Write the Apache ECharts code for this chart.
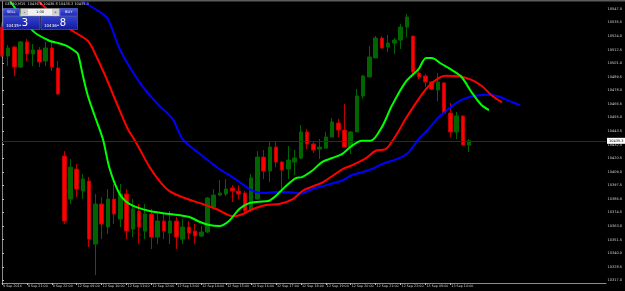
<!DOCTYPE html>
<html>
<head>
<meta charset="utf-8">
<script src="https://cdn.jsdelivr.net/npm/echarts@6/dist/echarts.min.js"></script>
<style>
html, body { margin: 0; padding: 0; background: #000; }
#chart { width: 625px; height: 291px; }
</style>
</head>
<body>
<div id="chart"></div>
<script>
// GER30 M15 - one label every 4 bars
var timeLabels = ['9 Sep 2016', '9 Sep 21:00', '9 Sep 22:00', '12 Sep 09:00', '12 Sep 10:00',
  '12 Sep 11:00', '12 Sep 12:00', '12 Sep 13:00', '12 Sep 14:00', '12 Sep 15:00', '12 Sep 16:00',
  '12 Sep 17:00', '12 Sep 18:00', '12 Sep 19:00', '12 Sep 20:00', '12 Sep 21:00', '12 Sep 22:00',
  '13 Sep 09:00', '13 Sep 10:00'];

// [open, close, low, high]
var candles = [
  [10531.7, 10507.2, 10506.3, 10535.1], [10507.2, 10514.0, 10498.7, 10516.5], [10514.8, 10497.8, 10490.2, 10515.7],
  [10497.8, 10519.1, 10497.0, 10519.9], [10519.1, 10508.9, 10502.9, 10521.6], [10508.9, 10512.3, 10498.7, 10517.4],
  [10512.3, 10502.1, 10497.8, 10514.8], [10502.9, 10514.0, 10498.7, 10519.1], [10514.0, 10497.8, 10494.4, 10519.1],
  [10497.0, 10475.0, 10474.1, 10502.9], [10422.4, 10367.3, 10364.8, 10426.6], [10385.9, 10413.0, 10381.7, 10419.8],
  [10411.4, 10394.4, 10387.6, 10415.6], [10392.7, 10402.9, 10385.9, 10407.2], [10401.2, 10352.0, 10345.2, 10404.6],
  [10347.8, 10381.7, 10321.5, 10390.2], [10381.7, 10364.8, 10352.0, 10387.6], [10362.2, 10385.9, 10356.3, 10394.4],
  [10385.9, 10373.3, 10364.8, 10398.7], [10369.0, 10390.2, 10362.2, 10398.7], [10390.2, 10358.8, 10352.0, 10394.4],
  [10360.5, 10377.5, 10353.7, 10385.9], [10375.8, 10362.2, 10347.8, 10381.7], [10358.8, 10373.3, 10352.0, 10381.7],
  [10373.3, 10353.7, 10343.6, 10377.5], [10353.7, 10367.3, 10347.8, 10373.3], [10367.3, 10358.8, 10352.0, 10373.3],
  [10357.1, 10367.3, 10347.8, 10375.8], [10367.3, 10353.7, 10343.6, 10370.7], [10352.0, 10362.2, 10347.8, 10369.0],
  [10362.2, 10357.1, 10352.0, 10367.3], [10358.8, 10354.6, 10347.8, 10364.8], [10354.6, 10358.0, 10353.7, 10363.1],
  [10358.0, 10386.8, 10357.1, 10387.6], [10379.1, 10389.3, 10378.3, 10394.4], [10389.3, 10391.0, 10388.5, 10402.1],
  [10390.2, 10394.4, 10388.5, 10402.9], [10395.3, 10392.7, 10383.4, 10397.8], [10392.7, 10390.2, 10385.9, 10397.8],
  [10391.0, 10375.8, 10374.1, 10392.7], [10376.6, 10403.8, 10375.0, 10407.2], [10385.9, 10421.5, 10385.9, 10426.6],
  [10421.5, 10409.7, 10402.9, 10427.5], [10409.7, 10430.0, 10400.4, 10434.3], [10430.0, 10417.3, 10413.0, 10434.3],
  [10417.3, 10410.5, 10394.4, 10418.1], [10411.4, 10419.0, 10402.9, 10430.9], [10417.3, 10420.7, 10406.3, 10427.5],
  [10420.7, 10442.8, 10419.8, 10448.7], [10442.8, 10432.6, 10428.3, 10445.3], [10432.6, 10427.5, 10424.9, 10435.1],
  [10428.3, 10430.0, 10419.8, 10436.8], [10429.1, 10438.5, 10429.1, 10442.8], [10438.5, 10451.3, 10438.5, 10454.6],
  [10450.4, 10444.4, 10438.5, 10453.8], [10444.4, 10430.0, 10430.0, 10466.5], [10430.0, 10442.8, 10424.1, 10443.6],
  [10442.8, 10473.3, 10442.8, 10479.2], [10473.3, 10490.2, 10470.7, 10491.0], [10489.4, 10506.3, 10489.4, 10515.7],
  [10505.5, 10522.4, 10505.5, 10524.1], [10522.4, 10514.0, 10513.1, 10524.1], [10514.8, 10518.2, 10510.6, 10525.0],
  [10518.2, 10520.7, 10508.9, 10522.4], [10520.7, 10531.7, 10513.1, 10534.3], [10531.7, 10540.2, 10523.3, 10542.8],
  [10524.1, 10493.6, 10491.9, 10524.1], [10492.7, 10489.4, 10487.7, 10496.1], [10490.2, 10485.2, 10480.9, 10491.9],
  [10485.2, 10479.2, 10478.4, 10486.0], [10478.4, 10485.2, 10469.0, 10492.7], [10484.3, 10458.8, 10458.0, 10485.2],
  [10458.8, 10442.8, 10438.5, 10467.3], [10442.8, 10456.3, 10436.8, 10459.7], [10456.3, 10431.7, 10431.7, 10457.1],
  [10431.7, 10435.3, 10425.8, 10436.8]
];

// moving averages (shifted forward), [bar, price]
var maGreen = [[1.3, 10553.8], [5.0, 10528.3], [7.7, 10519.9], [9.0, 10518.2], [10.4, 10515.7], [11.7, 10511.4],
  [12.2, 10508.9], [13.0, 10490.2], [13.8, 10473.3], [14.9, 10456.3], [16.2, 10436.8], [17.3, 10411.4],
  [18.9, 10390.2], [20.5, 10381.7], [23.7, 10375.8], [26.9, 10373.3], [30.1, 10370.7], [31.7, 10366.7],
  [33.3, 10363.9], [34.9, 10363.1], [36.5, 10367.6], [38.1, 10377.5], [39.7, 10382.5], [41.3, 10383.6],
  [42.9, 10384.5], [44.0, 10388.7], [45.6, 10397.0], [47.2, 10403.7], [48.2, 10404.6], [49.8, 10409.9],
  [51.4, 10417.3], [53.0, 10420.7], [54.6, 10424.1], [56.2, 10431.1], [57.8, 10435.3], [59.2, 10435.3],
  [61.0, 10446.9], [62.6, 10465.0], [64.8, 10485.1], [66.9, 10496.1], [68.1, 10505.5], [69.0, 10505.5],
  [70.6, 10500.4], [72.2, 10495.5], [73.8, 10489.4], [75.4, 10476.6], [77.0, 10465.6], [78.2, 10461.4]];

var maRed = [[5.8, 10553.8], [10.9, 10530.0], [13.8, 10519.9], [15.2, 10506.3], [16.8, 10487.7], [18.6, 10464.8],
  [20.2, 10445.3], [21.0, 10438.5], [22.1, 10428.3], [23.7, 10413.0], [25.3, 10401.2], [26.9, 10392.7],
  [29.3, 10386.8], [31.8, 10382.5], [34.4, 10377.5], [37.1, 10371.3], [38.7, 10373.3], [40.3, 10377.5],
  [42.4, 10380.9], [44.5, 10381.7], [46.7, 10385.9], [48.3, 10393.0], [49.9, 10396.7], [51.5, 10400.1],
  [53.1, 10405.7], [54.7, 10411.4], [56.3, 10414.8], [58.4, 10420.4], [60.0, 10426.9], [61.6, 10428.3],
  [62.7, 10435.3], [63.7, 10443.6], [64.8, 10453.8], [66.9, 10470.7], [68.5, 10481.5], [70.1, 10488.5],
  [71.2, 10490.5], [73.3, 10490.0], [75.5, 10486.8], [77.1, 10481.5], [78.7, 10473.5], [80.3, 10467.9]];

var maBlue = [[12.8, 10553.8], [15.7, 10544.5], [17.0, 10538.5], [18.9, 10513.1], [21.0, 10493.6], [22.9, 10479.2],
  [25.3, 10464.8], [27.4, 10453.8], [29.0, 10436.8], [31.8, 10424.1], [34.9, 10411.4], [37.0, 10404.6],
  [38.6, 10398.7], [40.2, 10393.0], [41.8, 10391.0], [44.5, 10392.1], [46.6, 10391.6], [48.2, 10390.7],
  [49.8, 10394.4], [51.4, 10396.7], [53.0, 10399.2], [54.6, 10401.5], [56.2, 10406.3], [57.8, 10408.6],
  [59.4, 10411.4], [61.0, 10415.6], [63.7, 10420.4], [65.3, 10425.5], [66.9, 10436.8], [68.5, 10445.3],
  [70.1, 10455.2], [71.7, 10462.2], [73.1, 10467.9], [74.4, 10471.3], [76.0, 10473.5], [78.1, 10474.4],
  [79.7, 10473.1], [81.3, 10469.4], [83.2, 10465.5]];

var priceTicks = [10547.0, 10535.5, 10524.0, 10512.5, 10501.0, 10489.5, 10478.0, 10466.5, 10455.0, 10443.5,
  10432.0, 10420.5, 10409.0, 10397.5, 10386.0, 10374.5, 10363.0, 10351.5, 10340.0, 10328.5, 10317.0];

var symbolTitle = 'GER30,M15  10436.8 10436.8 10435.3 10435.3';
var bid = 10435.3;
var ask = 10436.8;
var lotSize = '1.00';

var slotCount = 98;
var slots = [];
for (var i = 0; i < slotCount; i++) slots.push(i);

function isLabelSlot(index) {
  return index % 4 === 0 && index / 4 < timeLabels.length;
}

function splitPrice(p) {
  var s = p.toFixed(1);
  return { head: s.slice(0, -2), tail: s.slice(-2) };
}

var bidTxt = splitPrice(bid);
var askTxt = splitPrice(ask);

var blueGrad = new echarts.graphic.LinearGradient(0, 0, 0, 1, [
  { offset: 0, color: '#4b5be6' }, { offset: 1, color: '#1b22a8' }
]);
var boxGrad = new echarts.graphic.LinearGradient(0, 0, 0, 1, [
  { offset: 0, color: '#3442d0' }, { offset: 1, color: '#121a9a' }
]);

var myChart = echarts.init(document.getElementById('chart'), null, { renderer: 'canvas' });

var option = {
  backgroundColor: '#000',
  animation: false,
  grid: { left: 2, right: 16, top: 1, bottom: 8 },
  xAxis: [
    {
      type: 'category',
      data: slots,
      boundaryGap: false,
      axisLine: { lineStyle: { color: '#8c8c8c', width: 1 } },
      axisTick: {
        interval: function (index) { return isLabelSlot(index); },
        length: 2,
        lineStyle: { color: '#bbbbbb' }
      },
      axisLabel: {
        interval: function (index) { return isLabelSlot(index); },
        formatter: function (v, index) { return isLabelSlot(index) ? timeLabels[index / 4] : ''; },
        align: 'left',
        fontSize: 3.3,
        color: '#d0d0d0',
        fontFamily: 'DejaVu Sans',
        margin: 1.5,
        padding: [0, 0, 0, 1]
      },
      splitLine: { show: false }
    },
    {
      type: 'value',
      min: 0,
      max: slotCount - 1,
      position: 'top',
      axisLine: { show: false },
      axisTick: { show: false },
      axisLabel: { show: false },
      splitLine: { show: false }
    }
  ],
  yAxis: {
    type: 'value',
    position: 'right',
    min: 10314.8,
    max: 10553.8,
    axisLine: { show: true, lineStyle: { color: '#8c8c8c', width: 1 } },
    axisTick: { show: true, customValues: priceTicks, length: 2, lineStyle: { color: '#bbbbbb' } },
    axisLabel: {
      customValues: priceTicks,
      formatter: function (v) { return v.toFixed(1); },
      fontSize: 3.5,
      color: '#d0d0d0',
      fontFamily: 'DejaVu Sans',
      margin: 1.5
    },
    splitLine: { show: false }
  },
  graphic: [
    { type: 'rect', z: 50, shape: { x: 0, y: 0, width: 625, height: 1.5 }, style: { fill: '#5c5c5c' } },
    { type: 'text', z: 40, left: 5, top: 2.5, style: { text: symbolTitle, fill: '#d8d8d8', fontSize: 3.5, fontFamily: 'DejaVu Sans' } },
    // one click trading panel
    { type: 'rect', z: 60, shape: { x: 3, y: 8.5, width: 16.5, height: 7.5 }, style: { fill: blueGrad, stroke: '#7080ff', lineWidth: 0.5 } },
    { type: 'text', z: 61, x: 11.2, y: 12.3, style: { text: 'SELL', fill: '#fff', fontSize: 3.6, align: 'center', verticalAlign: 'middle', fontFamily: 'DejaVu Sans' } },
    { type: 'rect', z: 60, shape: { x: 20.5, y: 8.5, width: 39, height: 7.5 }, style: { fill: '#f0f0f0', stroke: '#9a9a9a', lineWidth: 0.5 } },
    { type: 'rect', z: 61, shape: { x: 21, y: 9, width: 7, height: 6.5 }, style: { fill: '#cfcfcf' } },
    { type: 'rect', z: 61, shape: { x: 52, y: 9, width: 7, height: 6.5 }, style: { fill: '#cfcfcf' } },
    { type: 'text', z: 62, x: 24.5, y: 12.3, style: { text: '-', fill: '#222', fontSize: 4, align: 'center', verticalAlign: 'middle' } },
    { type: 'text', z: 62, x: 55.5, y: 12.3, style: { text: '+', fill: '#222', fontSize: 4, align: 'center', verticalAlign: 'middle' } },
    { type: 'text', z: 62, x: 40, y: 12.3, style: { text: lotSize, fill: '#111', fontSize: 3.6, align: 'center', verticalAlign: 'middle', fontFamily: 'DejaVu Sans' } },
    { type: 'rect', z: 60, shape: { x: 60, y: 8.5, width: 17.5, height: 7.5 }, style: { fill: blueGrad, stroke: '#7080ff', lineWidth: 0.5 } },
    { type: 'text', z: 61, x: 68.7, y: 12.3, style: { text: 'BUY', fill: '#fff', fontSize: 3.6, align: 'center', verticalAlign: 'middle', fontFamily: 'DejaVu Sans' } },
    { type: 'rect', z: 60, shape: { x: 3, y: 16.5, width: 37, height: 13 }, style: { fill: boxGrad, stroke: '#6070f0', lineWidth: 0.5 } },
    { type: 'text', z: 61, x: 6, y: 25.5, style: { text: bidTxt.head, fill: '#fff', fontSize: 4, verticalAlign: 'middle', fontFamily: 'DejaVu Sans' } },
    { type: 'text', z: 61, x: 18.5, y: 23.5, style: { text: bidTxt.tail, fill: '#fff', fontSize: 10, verticalAlign: 'middle', fontFamily: 'DejaVu Sans' } },
    { type: 'rect', z: 60, shape: { x: 41, y: 16.5, width: 36.5, height: 13 }, style: { fill: boxGrad, stroke: '#6070f0', lineWidth: 0.5 } },
    { type: 'text', z: 61, x: 44, y: 25.5, style: { text: askTxt.head, fill: '#fff', fontSize: 4, verticalAlign: 'middle', fontFamily: 'DejaVu Sans' } },
    { type: 'text', z: 61, x: 56.5, y: 23.5, style: { text: askTxt.tail, fill: '#fff', fontSize: 10, verticalAlign: 'middle', fontFamily: 'DejaVu Sans' } }
  ],
  series: [
    {
      name: 'GER30',
      type: 'candlestick',
      xAxisIndex: 0,
      yAxisIndex: 0,
      data: candles,
      barWidth: 4,
      itemStyle: {
        color: '#006400',
        color0: '#ff0000',
        borderColor: '#006400',
        borderColor0: '#c00000',
        borderWidth: 1
      },
      markLine: {
        symbol: 'none',
        silent: true,
        data: [{ yAxis: bid }],
        lineStyle: { color: '#8b0000', width: 1, type: 'solid' },
        label: {
          position: 'end',
          distance: 1,
          formatter: bid.toFixed(1),
          backgroundColor: '#ffffff',
          color: '#000',
          fontSize: 3.5,
          fontFamily: 'DejaVu Sans',
          padding: [1, 2, 1, 2]
        }
      },
      z: 2
    },
    {
      name: 'MA fast',
      type: 'line',
      xAxisIndex: 1,
      data: maGreen,
      showSymbol: false,
      smooth: 0.3,
      lineStyle: { color: '#00ff00', width: 2 },
      z: 5
    },
    {
      name: 'MA mid',
      type: 'line',
      xAxisIndex: 1,
      data: maRed,
      showSymbol: false,
      smooth: 0.3,
      lineStyle: { color: '#ff0000', width: 2 },
      z: 4
    },
    {
      name: 'MA slow',
      type: 'line',
      xAxisIndex: 1,
      data: maBlue,
      showSymbol: false,
      smooth: 0.3,
      lineStyle: { color: '#0000ff', width: 2 },
      z: 3
    }
  ]
};

myChart.setOption(option);
</script>
</body>
</html>
